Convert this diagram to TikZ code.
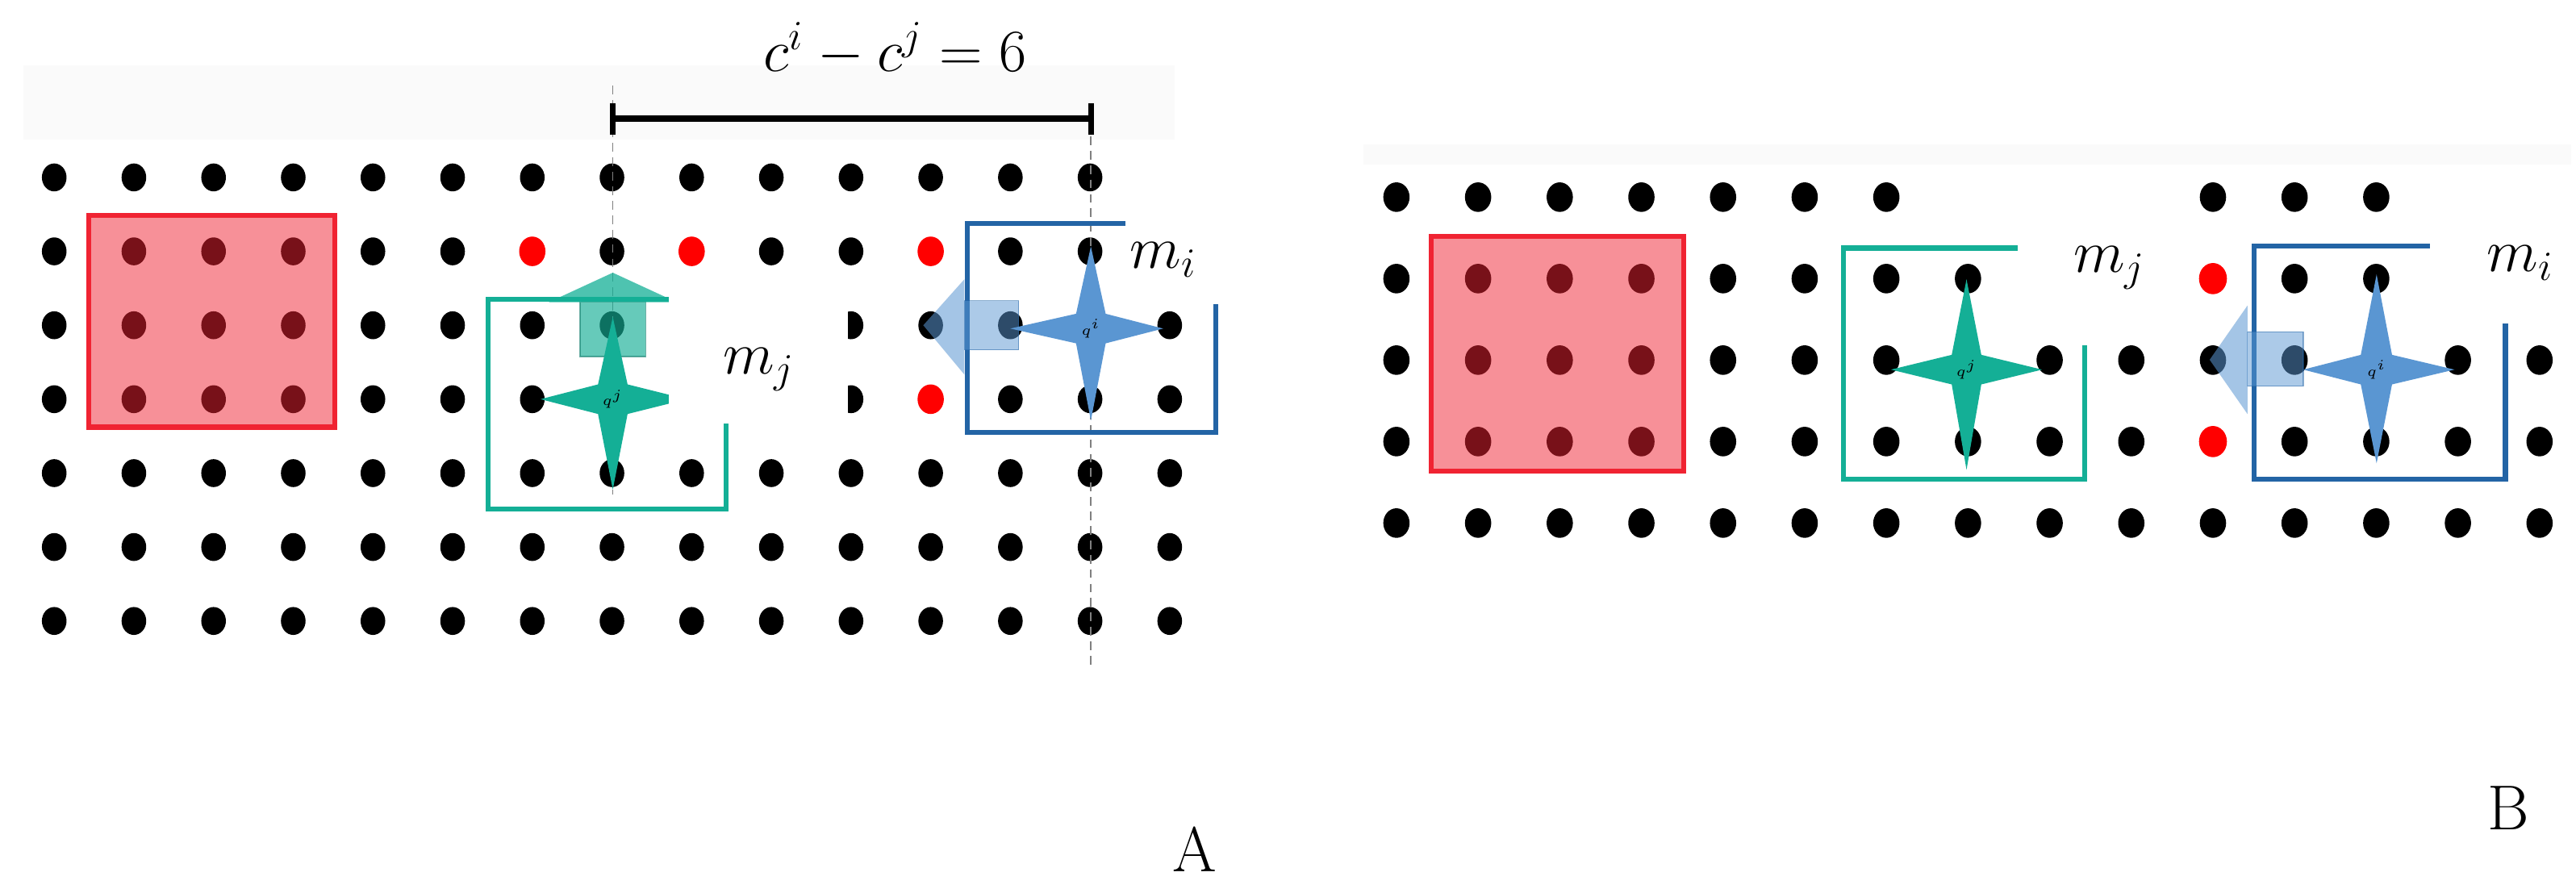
\documentclass[tikz,border=0pt]{standalone}
\usepackage{amsmath}
\begin{document}
\begin{tikzpicture}[x=0.02cm,y=-0.02cm,
  dot/.style={fill=black},
  lbl/.style={font=\fontsize{22}{24}\selectfont,inner sep=1pt}]
\definecolor{tl}{RGB}{20,175,150}
\definecolor{bl}{RGB}{35,100,165}
\definecolor{st}{RGB}{90,150,210}
\definecolor{rb}{RGB}{240,35,50}
\useasboundingbox (0,0) rectangle (1568,541);
\fill[white] (0,0) rectangle (1568,541);
% ---------- panel A ----------
\fill[gray!4] (14,40) rectangle (715,85);
\foreach \c in {1,...,15} \foreach \r in {1,...,7}
  {\fill[dot] ({33+48.5*(\c-1)},{108+45*(\r-1)}) ellipse (7.5 and 8.5);}
\foreach \c/\r in {7/2,9/2,12/2,12/4}
  {\fill[red] ({33+48.5*(\c-1)},{108+45*(\r-1)}) ellipse (8 and 9);}
\fill[rb,opacity=0.5] (54,131) rectangle (204,260);
\draw[rb,line width=1.7pt] (54,131) rectangle (204,260);
\draw[gray,densely dashed,thin] (373,52) -- (373,301);
\draw[gray,densely dashed,thin] (664,83) -- (664,405);
\draw[line width=2.3pt] (373,72) -- (664,72);
\draw[line width=2pt] (373,63) -- (373,82) (664,63) -- (664,82);
\node[lbl] (cc) at (545,30) {$c^i - c^j = 6$};
% teal agent
\draw[draw=tl,line width=1.7pt] (407,182) -- (297,182) -- (297,310) -- (442,310) -- (442,257);
\fill[tl,opacity=0.65] (353,184) rectangle (393,217);
\draw[tl!70!black,opacity=0.6] (353,184) rectangle (393,217);
\fill[tl,opacity=0.75] (334,184) -- (373,166) -- (412,184) -- cycle;
\fill[tl] (329,243) -- (364,234) -- (373,193) -- (382,234) -- (418,243) -- (382,252) -- (373,298) -- (364,252) -- cycle;
\node[font=\tiny] (qj) at (373,243) {$q^j$};
% white cut
\fill[white] (407,166) rectangle (516,258);
\node[lbl] (mj) at (462,225) {$m_j$};
% blue agent
\draw[draw=bl,line width=1.7pt] (685,136) -- (589,136) -- (589,263) -- (740,263) -- (740,185);
\fill[st,opacity=0.5] (587,183) rectangle (620,213);
\draw[bl,opacity=0.5] (587,183) rectangle (620,213);
\fill[st,opacity=0.55] (587,170) -- (562,198) -- (587,228) -- cycle;
\fill[st] (615,200) -- (655,191) -- (664,150) -- (673,191) -- (708,200) -- (673,209) -- (664,256) -- (655,209) -- cycle;
\node[font=\tiny] (qi) at (664,200) {$q^i$};
\fill[white] (686,95) rectangle (760,182);
\node[lbl] (mi) at (708,158) {$m_i$};
\node[lbl] (A) at (727,517) {A};
% ---------- panel B ----------
\fill[gray!4] (830,88) rectangle (1565,100);
\foreach \c in {1,...,15} \foreach \r in {1,...,5}
  {\fill[dot] ({850+49.7*(\c-1)},{120+49.6*(\r-1)}) ellipse (8 and 9);}
\foreach \c/\r in {11/2,11/4}
  {\fill[red] ({850+49.7*(\c-1)},{120+49.6*(\r-1)}) ellipse (8.5 and 9.5);}
\fill[white] (1229,100) rectangle (1322,195);
\fill[white] (1476,100) rectangle (1568,192);
\fill[white] (1180,100) rectangle (1229,140);
\fill[rb,opacity=0.5] (871,144) rectangle (1025,287);
\draw[rb,line width=1.7pt] (871,144) rectangle (1025,287);
\draw[draw=tl,line width=1.7pt] (1228,151) -- (1122,151) -- (1122,291.5) -- (1269,291.5) -- (1269,210);
\fill[tl] (1151,225) -- (1188,216) -- (1197,170) -- (1206,216) -- (1243,225) -- (1206,234) -- (1197,286) -- (1188,234) -- cycle;
\node[font=\tiny] (qj2) at (1197,225) {$q^j$};
\node[lbl] (mj2) at (1284,163) {$m_j$};
\draw[draw=bl,line width=1.7pt] (1479,150) -- (1372,150) -- (1372,291.5) -- (1525,291.5) -- (1525,197);
\fill[st,opacity=0.5] (1368,202) rectangle (1402,235);
\draw[bl,opacity=0.5] (1368,202) rectangle (1402,235);
\fill[st,opacity=0.55] (1368,186) -- (1345,219) -- (1368,252) -- cycle;
\fill[st] (1402,225) -- (1437,216) -- (1446.6,167) -- (1456,216) -- (1494,225) -- (1456,234) -- (1446.6,282) -- (1437,234) -- cycle;
\node[font=\tiny] (qi2) at (1446.6,225) {$q^i$};
\node[lbl] (mi2) at (1534,160) {$m_i$};
\node[lbl] (B) at (1527,492) {B};
\end{tikzpicture}
\end{document}
